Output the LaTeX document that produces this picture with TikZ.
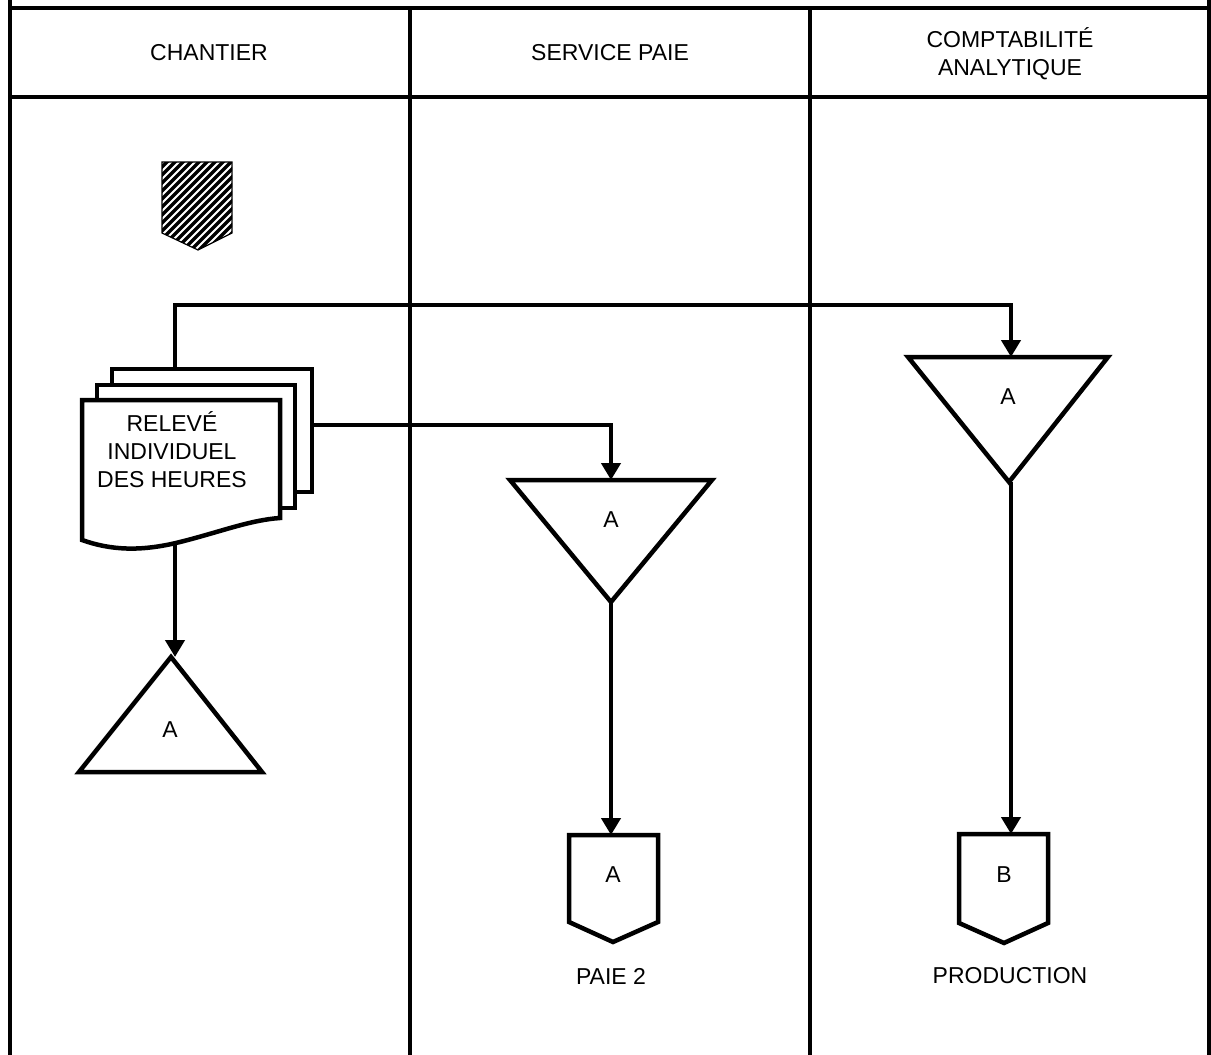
\documentclass[tikz,border=0pt]{standalone}
\usepackage{fontspec}
\setmainfont{Liberation Sans}
\usetikzlibrary{arrows.meta,calc}

\tikzset{
  frame/.style={line width=4pt, line cap=rect},
  shapeline/.style={line width=4.5pt, line join=miter, fill=white},
  flow/.style={line width=4.5pt, -{Triangle[width=19pt,length=17pt]}},
  label/.style={font=\fontsize{23}{28}\selectfont, inner sep=0pt, align=center},
}

\begin{document}
\begin{tikzpicture}[x=1pt,y=-1pt]
\useasboundingbox (0,0) rectangle (1211,1055);

% swimlane frame
\draw[frame] (10,0) -- (10,1055);
\draw[frame] (1209,0) -- (1209,1055);
\draw[frame] (10,8) -- (1209,8);
\draw[frame] (10,97) -- (1209,97);
\draw[frame] (410,8) -- (410,1055);
\draw[frame] (810,8) -- (810,1055);

% lane headings
\node[label] (h1) at (209,53) {CHANTIER};
\node[label] (h2) at (610,53) {SERVICE PAIE};
\node[label] (h3) at (1010,54) {COMPTABILITÉ\\ANALYTIQUE};

% hatched start symbol
\begin{scope}
  \clip (162,162) -- (232,162) -- (232,233) -- (198,250) -- (162,233) -- cycle;
  \foreach \k in {-120,-112,...,80}
    \draw[line width=3.5pt] (162+\k,255) -- (262+\k,155);
\end{scope}
\draw[line width=1.2pt, line join=miter] (162,162) -- (232,162) -- (232,233) -- (198,250) -- (162,233) -- cycle;

% multi-copy document
\draw[shapeline] (112,369) rectangle (312,492);
\draw[shapeline] (97,385) rectangle (295,508);
\draw[shapeline] (82,400) -- (280,400) -- (280,518)
  .. controls (250,520) and (220,532) .. (180,542)
  .. controls (140,552) and (110,550) .. (82,540) -- cycle;
\node[label] (doc) at (172,450) {RELEVÉ\\INDIVIDUEL\\DES HEURES};
\coordinate (docTop) at (175,369);
\coordinate (docRight) at (312,425);
\coordinate (docBottom) at (175,544);

% file symbols (triangles)
\draw[shapeline] (908,357) -- (1108,357) -- (1009,482) -- cycle;
\node[label] (fileR) at (1008,397) {A};
\coordinate (fileRtop) at (1011,357);
\coordinate (fileRtip) at (1011,482);

\draw[shapeline] (510,480) -- (712,480) -- (611,602) -- cycle;
\node[label] (fileM) at (611,520) {A};
\coordinate (fileMtop) at (611,480);
\coordinate (fileMtip) at (611,602);

\draw[shapeline] (171,657) -- (262,772) -- (79,772) -- cycle;
\node[label] (fileL) at (170,730) {A};
\coordinate (fileLtop) at (173,657);

% off-page connectors
\draw[shapeline] (569,835) -- (658,835) -- (658,922) -- (613,942) -- (569,922) -- cycle;
\node[label] (offA) at (613,875) {A};
\node[label] (offAname) at (611,976) {PAIE 2};
\coordinate (offAtop) at (611,835);

\draw[shapeline] (959,834) -- (1048,834) -- (1048,923) -- (1004,943) -- (959,923) -- cycle;
\node[label] (offB) at (1004,875) {B};
\node[label] (offBname) at (1010,976) {PRODUCTION};
\coordinate (offBtop) at (1011,834);

% flows
\draw[flow] (docTop) -- ++(0,-64) -| (fileRtop);
\draw[flow] (docRight) -| (fileMtop);
\draw[flow] (docBottom) -- (docBottom |- fileLtop);
\draw[flow] (fileMtip) -- (offAtop);
\draw[flow] (fileRtip) -- (offBtop);
\end{tikzpicture}
\end{document}
